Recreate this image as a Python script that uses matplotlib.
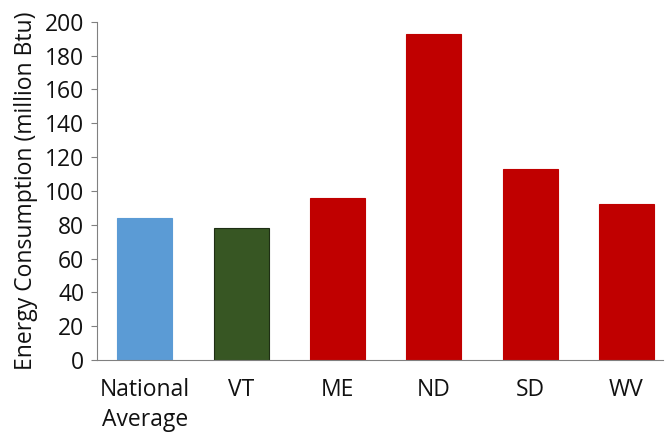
import matplotlib
matplotlib.use("Agg")
import matplotlib.pyplot as plt

categories = ["National\nAverage", "VT", "ME", "ND", "SD", "WV"]
consumption = [84, 78, 96, 193, 113, 92]
bar_colors = ["#5B9BD5", "#375623", "#C00000", "#C00000", "#C00000", "#C00000"]
edge_colors = ["#5B9BD5", "#1E2E14", "#C00000", "#C00000", "#C00000", "#C00000"]
y_ticks = list(range(0, 201, 20))

plt.rcParams["font.family"] = ["Open Sans", "DejaVu Sans"]

fig = plt.figure(figsize=(6.68, 4.37), dpi=100)
ax = fig.add_axes([96.7 / 668, 1 - 360 / 437, (663 - 96.7) / 668, (360 - 21.7) / 437])

x = range(len(categories))
ax.bar(x, consumption, width=0.57, color=bar_colors, edgecolor=edge_colors, linewidth=0.8)

ax.set_xlim(-0.5, 5.38)
ax.set_ylim(0, 200)
ax.set_yticks(y_ticks)
ax.set_xticks(list(x))
ax.set_xticklabels(categories, fontsize=16.5, color="#111111", linespacing=1.35)
ax.tick_params(axis="y", labelsize=16.5, labelcolor="#111111", length=4, color="#808080", direction="out", pad=5)
ax.tick_params(axis="x", length=0, pad=13)
for lbl in ax.get_xticklabels():
    lbl.set_verticalalignment("top")

for side in ("top", "right"):
    ax.spines[side].set_visible(False)
ax.spines["left"].set_color("#808080")
ax.spines["bottom"].set_color("#808080")

ax.set_ylabel("Energy Consumption (million Btu)", fontsize=16.5, color="#111111", labelpad=5)

fig.savefig("out.png", dpi=100)
